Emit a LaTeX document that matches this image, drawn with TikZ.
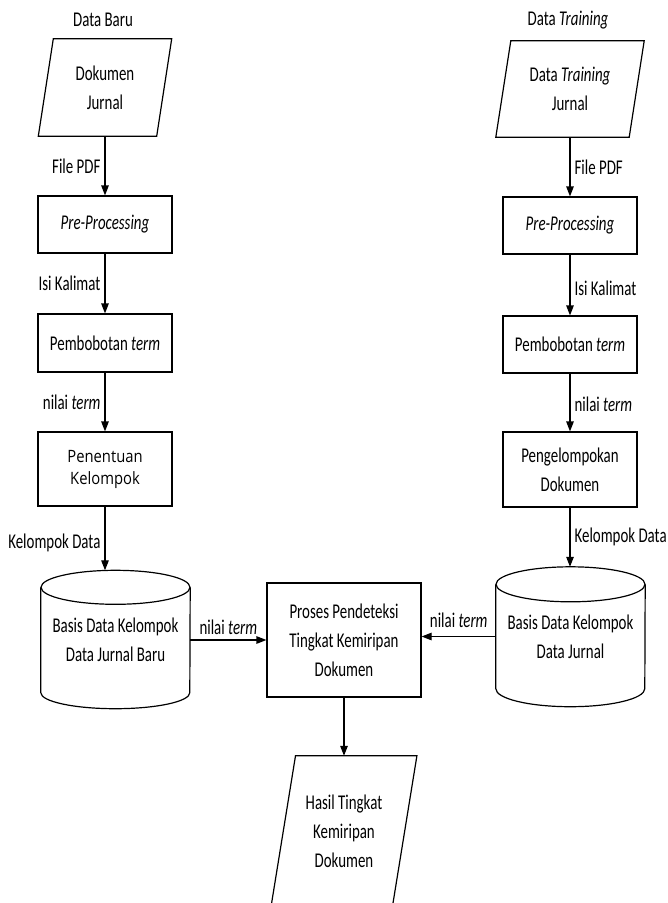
\documentclass[tikz,border=0pt]{standalone}
\usepackage{fontspec}
\setmainfont[FakeStretch=0.71]{Carlito}
\newfontfamily\osfont[FakeStretch=0.87]{Open Sans}
\usetikzlibrary{arrows.meta}
\begin{document}
\begin{tikzpicture}[x=1pt,y=-1pt,
  every node/.style={font=\fontsize{21}{29}\selectfont},
  ln/.style={line width=1.2pt},
  flow/.style={ln,-{Triangle[width=7.5pt,length=10pt]}},
  box/.style={draw,ln,align=center,inner sep=0pt,minimum width=134pt},
  ghost/.style={align=center,inner sep=0pt},
  lbl/.style={inner sep=2pt}]
\useasboundingbox (0,0) rectangle (668,903);
\clip (0,0) rectangle (668,903);

% titles
\node (t1) at (103,20) {Data Baru};
\node (t2) at (568,20) {Data \textit{Training}};

% left column
\node[ghost,minimum width=118pt,minimum height=97pt] (in1) at (105,87.5) {Dokumen\\Jurnal};
\draw[ln] ([xshift=7.5pt]in1.north west) -- ([xshift=7.5pt]in1.north east)
  -- ([xshift=-7.5pt]in1.south east) -- ([xshift=-7.5pt]in1.south west) -- cycle;
\node[box,minimum height=57pt] (pre1) at (105,224.5) {\textit{Pre-Processing}};
\node[box,minimum height=58pt] (pem1) at (105,343) {Pembobotan \textit{term}};
\node[box,minimum height=74pt,font=\osfont\fontsize{17}{22}\selectfont] (pen1) at (105,469) {Penentuan\\Kelompok};

% right column
\node[ghost,minimum width=133pt,minimum height=96pt] (in2) at (570,89) {Data \textit{Training}\\Jurnal};
\draw[ln] ([xshift=7.5pt]in2.north west) -- ([xshift=7.5pt]in2.north east)
  -- ([xshift=-7.5pt]in2.south east) -- ([xshift=-7.5pt]in2.south west) -- cycle;
\node[box,minimum height=57pt] (pre2) at (570,225.5) {\textit{Pre-Processing}};
\node[box,minimum height=57pt] (pem2) at (570,344.5) {Pembobotan \textit{term}};
\node[box,minimum height=75pt] (pgk2) at (570,469.5) {Pengelompokan\\Dokumen};

% cylinders
\node[ghost,minimum width=149pt,minimum height=105pt] (cyl1) at (115.5,640) {Basis Data Kelompok\\Data Jurnal Baru};
\draw[ln] (cyl1.north) ellipse [x radius=74.5pt,y radius=17pt];
\draw[ln] (cyl1.north west) -- (cyl1.south west)
  arc[start angle=180,end angle=360,x radius=74.5pt,y radius=16pt] -- (cyl1.north east);
\coordinate (cyl1top) at ([yshift=17pt]cyl1.north);

\node[ghost,minimum width=149pt,minimum height=104pt] (cyl2) at (570.5,636.5) {Basis Data Kelompok\\Data Jurnal};
\draw[ln] (cyl2.north) ellipse [x radius=74.5pt,y radius=17.5pt];
\draw[ln] (cyl2.north west) -- (cyl2.south west)
  arc[start angle=180,end angle=360,x radius=74.5pt,y radius=18pt] -- (cyl2.north east);
\coordinate (cyl2top) at ([yshift=17.5pt]cyl2.north);

% centre
\node[box,minimum width=154pt,minimum height=114pt] (proc) at (344,640) {Proses Pendeteksi\\Tingkat Kemiripan\\Dokumen};
\node[ghost,minimum width=121pt,minimum height=150pt] (out) at (344,831) {Hasil Tingkat\\Kemiripan\\Dokumen};
\draw[ln] ([xshift=12.2pt]out.north west) -- ([xshift=12.2pt]out.north east)
  -- ([xshift=-12.2pt]out.south east) -- ([xshift=-12.2pt]out.south west) -- cycle;

% connectors left
\draw[flow] (in1.south) -- node[lbl,left=2pt] {File PDF} (pre1.north);
\draw[flow] (pre1.south) -- node[lbl,left=2pt] {Isi Kalimat} (pem1.north);
\draw[flow] (pem1.south) -- node[lbl,left=2pt] {nilai \textit{term}} (pen1.north);
\draw[flow] (pen1.south) -- node[lbl,left=2pt,pos=0.57] {Kelompok Data} (pen1.south |- cyl1top);

% connectors right
\draw[flow] (in2.south) -- node[lbl,right=2pt] {File PDF} (pre2.north);
\draw[flow] (pre2.south) -- node[lbl,right=2pt,pos=0.55] {Isi Kalimat} (pem2.north);
\draw[flow] (pem2.south) -- node[lbl,right=2pt,pos=0.53] {nilai \textit{term}} (pgk2.north);
\draw[flow] (pgk2.south) -- node[lbl,right=2pt] {Kelompok Data} (pgk2.south |- cyl2top);

% connectors centre
\draw[flow] (cyl1.east) -- node[lbl,above=3pt] {nilai \textit{term}} (proc.west |- cyl1.east);
\draw[flow] (cyl2.west) -- node[lbl,above=6pt] {nilai \textit{term}} (proc.east |- cyl2.west);
\draw[flow] (proc.south) -- (out.north);
\end{tikzpicture}
\end{document}
